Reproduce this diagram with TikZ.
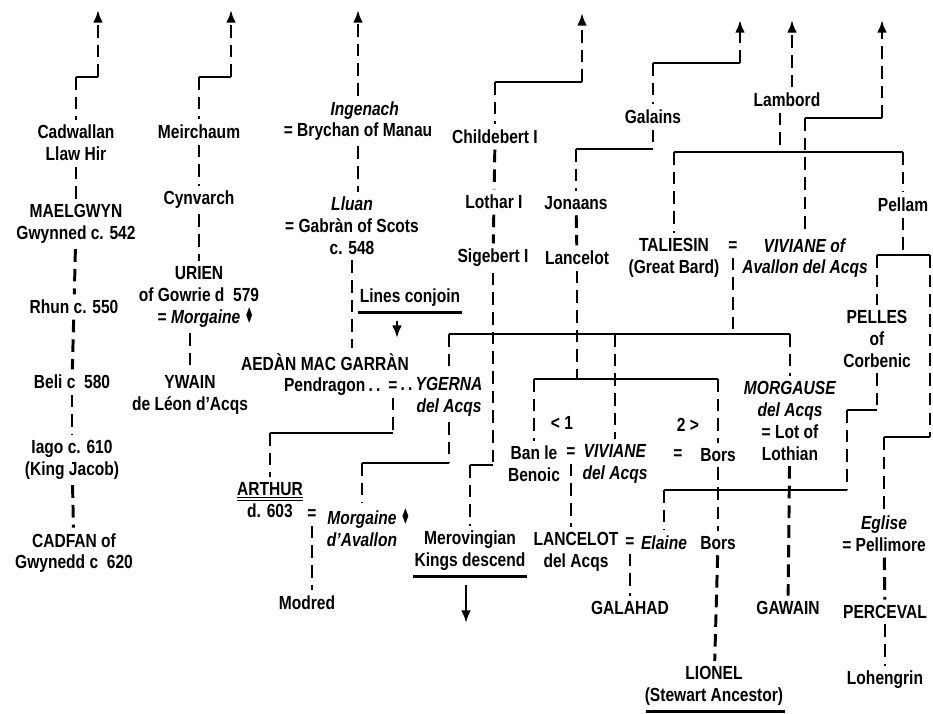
\documentclass[tikz,border=0pt]{standalone}
\usepackage{fontspec}
\setmainfont{Liberation Sans}[FakeStretch=0.82]
\newfontfamily\symfont{DejaVu Sans}
\usetikzlibrary{arrows.meta}

\begin{document}
\begin{tikzpicture}[x=0.025cm, y=-0.025cm,
    pers/.style={font=\fontsize{13.5}{15.5}\selectfont\bfseries, align=center, inner sep=1pt, outer sep=3pt},
    dl/.style={line width=2.1pt, dash pattern=on 9pt off 5pt},
    hl/.style={line width=2.1pt},
    tip/.style={-{Latex[length=9pt,width=7pt]}}]

    \useasboundingbox (0,0) rectangle (933,713);

    % Gwynedd line
    \node[pers] (cadw) at (76,143) {Cadwallan\\Llaw Hir};
    \node[pers] (mael) at (76,224) {MAELGWYN\\Gwynned c. 542};
    \node[pers] (rhun) at (74,307) {Rhun c. 550};
    \node[pers] (beli) at (72,382) {Beli c\ \ 580};
    \node[pers] (iago) at (72,460) {Iago c. 610\\(King Jacob)};
    \node[pers] (cadf) at (74,553) {CADFAN of\\Gwynedd c\ \ 620};

    % Rheged line
    \node[pers] (meir) at (199,132) {Meirchaum};
    \node[pers] (cynv) at (199,200) {Cynvarch};
    \node[pers] (urien) at (199,297) {URIEN\\of Gowrie d\ \ 579\\= \textit{Morgaine}\rlap{\ {\symfont\scalebox{0.55}[1.15]{♦}}}};
    \node[pers] (ywain) at (190,395) {YWAIN\\de Léon d'Acqs};

    % Scots line
    \node[pers] (ing) at (358,121) {\phantom{= }\textit{Ingenach}\\= Brychan of Manau};
    \node[pers] (lluan) at (352,226) {\textit{Lluan}\\= Gabràn of Scots\\c. 548};
    \node[pers] (conj) at (410,298) {Lines conjoin};
    \node[pers] (aedan) at (325,362) {AEDÀN MAC GARRÀN};
    \node[pers, anchor=east] (pend) at (386,387) {Pendragon\,.\,.};
    \node[pers] (eq1) at (393,387) {=};
    \node[pers] (ygerna) at (449,397) {\llap{.\,.\,}\textit{YGERNA}\\\textit{del Acqs}};
    \node[pers] (arthur) at (270,500) {\underline{\underline{ARTHUR}}\\d. 603};
    \node[pers] (eq2) at (312,515) {=};
    \node[pers] (morg1) at (362,528) {\textit{Morgaine}\rlap{\ {\symfont\scalebox{0.55}[1.15]{♦}}}\\\textit{d'Avallon}};
    \node[pers] (modred) at (307,603) {Modred};

    % Merovingian line
    \node[pers] (child) at (495,137) {Childebert I};
    \node[pers] (loth) at (494,202) {Lothar I};
    \node[pers] (sige) at (493,258) {Sigebert I};
    \node[pers] (merov) at (470,551) {Merovingian\\Kings descend};

    % Galains line
    \node[pers] (gal) at (653,117) {Galains};
    \node[pers] (jona) at (576,203) {Jonaans};
    \node[pers] (lanc) at (577,258) {Lancelot};
    \node[pers] (m1) at (562,423) {< 1};
    \node[pers] (m2) at (688,425) {2 >};
    \node[pers] (ban) at (534,464) {Ban le\\Benoic};
    \node[pers] (eq3) at (571,453) {=};
    \node[pers] (vivd) at (615,464) {\textit{VIVIANE}\\\textit{del Acqs}};
    \node[pers] (eq4) at (678,455) {=};
    \node[pers] (bors1) at (718,455) {Bors};
    \node[pers] (lanc2) at (576,552) {LANCELOT\\del Acqs};
    \node[pers] (eq5) at (630,543) {=};
    \node[pers] (elaine) at (664,543) {\textit{Elaine}};
    \node[pers] (bors2) at (718,543) {Bors};
    \node[pers] (galahad) at (630,608) {GALAHAD};
    \node[pers] (lionel) at (714,686) {LIONEL\\(Stewart Ancestor)};

    % Lambord line
    \node[pers] (lamb) at (787,100) {Lambord};
    \node[pers] (tal) at (674,258) {TALIESIN\\(Great Bard)};
    \node[pers] (eq6) at (733,247) {=};
    \node[pers] (viv) at (805,258) {\textit{VIVIANE of}\\\textit{Avallon del Acqs}};
    \node[pers] (morg) at (790,421) {\textit{MORGAUSE}\\\textit{del Acqs}\\= Lot of\\Lothian};
    \node[pers] (gawain) at (788,608) {GAWAIN};
    \node[pers] (pellam) at (903,205) {Pellam};
    \node[pers] (pelles) at (877,339) {PELLES\\of\\Corbenic};
    \node[pers] (eglise) at (884,534) {\textit{Eglise}\\= Pellimore};
    \node[pers] (perc) at (885,612) {PERCEVAL};
    \node[pers] (lohen) at (885,680) {Lohengrin};

    % ends and corners
    \coordinate (up1) at (98,10);
    \coordinate (up2) at (231,10);
    \coordinate (up3) at (358,10);
    \coordinate (up4) at (582,13);
    \coordinate (up5) at (740,20);
    \coordinate (up6) at (792,20);
    \coordinate (up7) at (882,20);
    \coordinate (c1) at (98,77);
    \coordinate (c2) at (231,77);
    \coordinate (c4) at (582,82);
    \coordinate (c5) at (740,63);
    \coordinate (c5b) at (653,149);
    \coordinate (c7) at (882,118);
    \coordinate (c8) at (493,465);
    \coordinate (c9) at (393,433);
    \coordinate (c10) at (449,463);
    \coordinate (c11) at (877,410);
    \coordinate (cjt) at (397,338);
    \coordinate (dn) at (466,623);
    \coordinate (bt) at (733,334);
    \coordinate (bl) at (577,379);
    \coordinate (bb) at (780,152);
    \coordinate (bp) at (903,255);
    \coordinate (be) at (847,490);
    \coordinate (r1) at (930,255);
    \coordinate (r2) at (930,437);

    % Gwynedd
    \draw[dl,tip] (c1) -- (up1);
    \draw[hl] (c1) -- (c1 -| cadw);
    \draw[dl] (c1 -| cadw) -- (cadw);
    \draw[dl] (cadw) -- (mael);
    \draw[dl] (mael) -- (rhun);
    \draw[dl] (rhun) -- (beli);
    \draw[dl] (beli) -- (iago);
    \draw[dl] (iago) -- (cadf);

    % Rheged
    \draw[dl,tip] (c2) -- (up2);
    \draw[hl] (c2) -- (c2 -| meir);
    \draw[dl] (c2 -| meir) -- (meir);
    \draw[dl] (meir) -- (cynv);
    \draw[dl] (cynv) -- (urien);
    \draw[dl] (urien.south -| ywain) -- (ywain);

    % Scots, Pendragon, Arthur
    \draw[dl,tip] (ing) -- (up3);
    \draw[dl] (ing.south) -- (ing.south |- lluan.north);
    \draw[dl] (lluan.south) -- (lluan.south |- aedan.north);
    \draw[hl,shorten <=3pt,shorten >=3pt] (conj.south west) -- (conj.south east);
    \draw[hl,tip,shorten <=6pt] (conj.south -| cjt) -- (cjt);
    \draw[dl] (eq1) -- (c9);
    \draw[hl] (c9) -- (c9 -| arthur);
    \draw[dl] (c9 -| arthur) -- (arthur);
    \draw[dl] (ygerna) -- (c10);
    \draw[hl] (c10) -- (c10 -| morg1);
    \draw[dl] (c10 -| morg1) -- (morg1);
    \draw[dl] (eq2) -- (eq2 |- modred.north);

    % Merovingian
    \draw[dl,tip] (c4) -- (up4);
    \draw[hl] (c4) -- (c4 -| child);
    \draw[dl] (c4 -| child) -- (child);
    \draw[dl] (child) -- (loth);
    \draw[dl] (loth) -- (sige);
    \draw[dl] (sige) -- (c8);
    \draw[hl] (c8) -- (c8 -| merov);
    \draw[dl] (c8 -| merov) -- (merov);
    \draw[hl,shorten <=3pt,shorten >=3pt] (merov.south west) -- (merov.south east);
    \draw[hl,tip,shorten <=6pt] (merov.south -| dn) -- (dn);

    % Galains, Lancelot
    \draw[dl,tip] (c5) -- (up5);
    \draw[hl] (c5) -- (c5 -| gal);
    \draw[dl] (c5 -| gal) -- (gal);
    \draw[dl] (gal) -- (c5b);
    \draw[hl] (c5b) -- (c5b -| jona);
    \draw[dl] (c5b -| jona) -- (jona);
    \draw[dl] (jona) -- (lanc);
    \draw[dl] (lanc) -- (bl);
    \draw[hl] (bl -| ban) -- (bl -| bors1);
    \draw[dl] (bl -| ban) -- (ban);
    \draw[dl] (bl -| bors1) -- (bors1);
    \draw[dl] (eq3) -- (eq3 |- lanc2.north);
    \draw[dl] (eq5) -- (eq5 |- galahad.north);
    \draw[dl] (bors1) -- (bors2);
    \draw[dl] (bors2) -- (lionel);
    \draw[hl,shorten <=5pt,shorten >=3pt] (lionel.south west) -- (lionel.south east);

    % Lambord, Taliesin
    \draw[dl,tip] (lamb.north -| up6) -- (up6);
    \draw[dl] (lamb.south -| bb) -- (bb);
    \draw[hl] (bb -| tal) -- (bb -| pellam);
    \draw[dl] (bb -| tal) -- (tal);
    \draw[dl] (bb -| pellam) -- (pellam);
    \draw[dl,tip] (c7) -- (up7);
    \draw[hl] (c7) -- (c7 -| viv);
    \draw[dl] (c7 -| viv) -- (viv);
    \draw[dl] (eq6) -- (bt);
    \draw[hl] (bt -| ygerna) -- (bt -| morg);
    \draw[dl] (bt -| ygerna) -- (ygerna);
    \draw[dl] (bt -| vivd) -- (vivd);
    \draw[dl] (bt -| morg) -- (morg);
    \draw[dl] (morg) -- (gawain);

    % Pellam
    \draw[dl] (pellam) -- (bp);
    \draw[hl] (bp -| pelles) -- (r1);
    \draw[dl] (bp -| pelles) -- (pelles);
    \draw[dl] (r1) -- (r2);
    \draw[hl] (r2) -- (r2 -| eglise);
    \draw[dl] (r2 -| eglise) -- (eglise);
    \draw[dl] (eglise) -- (perc);
    \draw[dl] (perc) -- (lohen);
    \draw[dl] (pelles) -- (c11);
    \draw[hl] (c11) -- (c11 -| be);
    \draw[dl] (c11 -| be) -- (be);
    \draw[hl] (be) -- (be -| elaine);
    \draw[dl] (be -| elaine) -- (elaine);
\end{tikzpicture}
\end{document}
